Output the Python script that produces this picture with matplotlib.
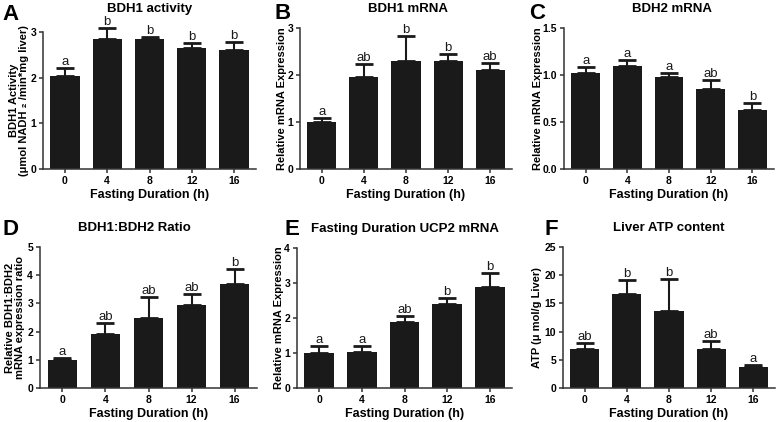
import matplotlib
matplotlib.use('Agg')
import matplotlib.pyplot as plt
import numpy as np

plt.rcParams['font.family'] = ['Liberation Sans', 'DejaVu Sans']
plt.rcParams['font.weight'] = 'bold'

# fasting time points (h)
hours = ['0', '4', '8', '12', '16']

# A - BDH1 activity
bdh1_act = [2.03, 2.85, 2.84, 2.64, 2.61]
bdh1_act_err = [0.18, 0.24, 0.06, 0.11, 0.17]
bdh1_act_sig = ['a', 'b', 'b', 'b', 'b']

# B - BDH1 mRNA
bdh1_mrna = [1.01, 1.96, 2.29, 2.29, 2.11]
bdh1_mrna_err = [0.07, 0.28, 0.53, 0.16, 0.15]
bdh1_mrna_sig = ['a', 'ab', 'b', 'b', 'ab']

# C - BDH2 mRNA
bdh2_mrna = [1.02, 1.10, 0.98, 0.855, 0.63]
bdh2_mrna_err = [0.07, 0.06, 0.04, 0.095, 0.07]
bdh2_mrna_sig = ['a', 'a', 'a', 'ab', 'b']

# D - BDH1:BDH2 ratio
ratio = [1.00, 1.91, 2.50, 2.94, 3.68]
ratio_err = [0.05, 0.40, 0.73, 0.40, 0.53]
ratio_sig = ['a', 'ab', 'ab', 'ab', 'b']

# E - UCP2 mRNA
ucp2 = [1.01, 1.03, 1.89, 2.40, 2.89]
ucp2_err = [0.19, 0.17, 0.18, 0.17, 0.41]
ucp2_sig = ['a', 'a', 'ab', 'b', 'b']

# F - liver ATP
atp = [6.84, 16.6, 13.6, 6.9, 3.66]
atp_err = [1.16, 2.5, 5.8, 1.5, 0.34]
atp_sig = ['ab', 'b', 'b', 'ab', 'a']

W, H = 778, 422
fig = plt.figure(figsize=(W / 100, H / 100), dpi=100)


def make_ax(l, t, r, b):
    # pixel box -> figure fraction
    return fig.add_axes([l / W, 1 - b / H, (r - l) / W, (b - t) / H])


def panel(ax, vals, errs, sig, ymax, yticks, title, ylabel, letter, lx, ly,
          ylab_off, tx, ty, tfmt=None):
    x = np.arange(len(hours))
    ax.bar(x, vals, width=0.69, color='#1a1a1a', zorder=2)
    ax.errorbar(x, vals, yerr=[np.zeros(len(vals)), errs], fmt='none',
                ecolor='#1a1a1a', elinewidth=1.5, capsize=6.5, capthick=2,
                clip_on=False, zorder=3)
    for xi, v, e, s in zip(x, vals, errs, sig):
        ax.text(xi, v + e, s, ha='center', va='bottom', fontsize=9.5,
                fontweight='normal', color='#1a1a1a')
    ax.set_xlim(-0.52, 4.52)
    ax.set_ylim(0, ymax)
    ax.set_yticks(yticks)
    if tfmt:
        ax.set_yticklabels([tfmt % t for t in yticks])
    ax.set_xticks(x)
    ax.set_xticklabels(hours)
    for s in ['top', 'right']:
        ax.spines[s].set_visible(False)
    for s in ['left', 'bottom']:
        ax.spines[s].set_linewidth(1.1)
        ax.spines[s].set_color('#333333')
    ax.tick_params(length=3, width=1.1, labelsize=7.5, color='#333333', pad=2)
    for lab in ax.get_xticklabels() + ax.get_yticklabels():
        lab.set_fontweight('bold')
    ax.set_xlabel('Fasting Duration (h)', fontsize=9, fontweight='bold', labelpad=2)
    ax.set_ylabel(ylabel, fontsize=8, fontweight='bold', linespacing=1.0)
    # put the y label's right edge a fixed pixel distance left of the axis
    bb = ax.get_position()
    ax.yaxis.set_label_coords(ylab_off / (bb.width * W), 0.5)
    fig.text(tx / W, 1 - ty / H, title, fontsize=9.5, fontweight='bold',
             ha='center', va='baseline')
    fig.text(lx / W, 1 - ly / H, letter, fontsize=16, fontweight='bold', va='top', ha='left')


axA = make_ax(43, 32, 256, 169)
panel(axA, bdh1_act, bdh1_act_err, bdh1_act_sig, 3, [0, 1, 2, 3], 'BDH1 activity',
      'BDH1 Activity\n(\u03bcmol NADH \u2082 /min*mg liver)', 'A', 2, 4, -14, 150, 12)

axB = make_ax(300, 28, 512, 169)
panel(axB, bdh1_mrna, bdh1_mrna_err, bdh1_mrna_sig, 3, [0, 1, 2, 3], 'BDH1 mRNA',
      'Relative mRNA Expression', 'B', 275, 3, -13, 408, 12)

axC = make_ax(564, 28, 774, 169)
panel(axC, bdh2_mrna, bdh2_mrna_err, bdh2_mrna_sig, 1.5, [0, 0.5, 1.0, 1.5], 'BDH2 mRNA',
      'Relative mRNA Expression', 'C', 529, 3, -21, 672, 12, tfmt='%.1f')

axD = make_ax(40, 247, 257, 388)
panel(axD, ratio, ratio_err, ratio_sig, 5, [0, 1, 2, 3, 4, 5], 'BDH1:BDH2 Ratio',
      'Relative BDH1:BDH2\nmRNA expression ratio', 'D', 2, 219, -15, 134, 231)

axE = make_ax(297, 248, 512, 388)
panel(axE, ucp2, ucp2_err, ucp2_sig, 4, [0, 1, 2, 3, 4], 'Fasting Duration UCP2 mRNA',
      'Relative mRNA Expression', 'E', 284, 219, -13, 405, 232)

axF = make_ax(563, 247, 775, 388)
panel(axF, atp, atp_err, atp_sig, 25, [0, 5, 10, 15, 20, 25], 'Liver ATP content',
      'ATP (\u03bc mol/g Liver)', 'F', 545, 219, -21, 669, 231)

fig.savefig('out.png', dpi=100)
